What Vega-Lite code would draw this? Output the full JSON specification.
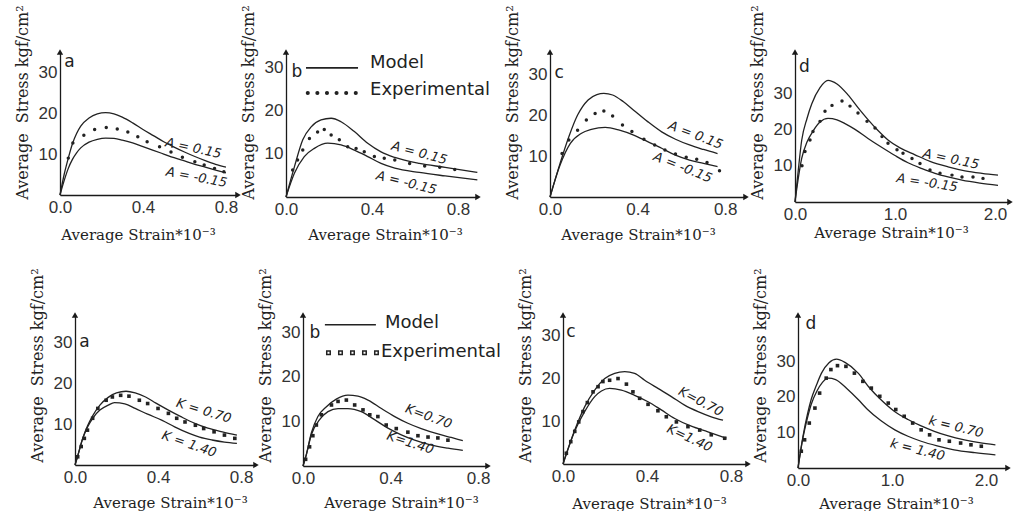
{
  "$schema": "https://vega.github.io/schema/vega-lite/v6.json",
  "background": "white",
  "padding": {"left": 14, "top": 4, "right": 0, "bottom": 0},
  "config": {
    "view": {"stroke": null},
    "axis": {"grid": false, "ticks": false, "domainColor": "#1a1a1a", "domainWidth": 1.3, "labelFont": "Liberation Sans", "labelFontSize": 17, "labelColor": "#333", "labelFlush": false, "labelOverlap": false, "titleFont": "DejaVu Serif", "titleFontSize": 15, "titleFontWeight": "normal", "titleColor": "#222"},
    "axisX": {"labelPadding": 4},
    "axisY": {"labelPadding": 3, "titlePadding": 8, "titleFontSize": 16},
    "line": {"color": "#222", "strokeWidth": 1.3, "interpolate": "monotone"},
    "text": {"color": "#222", "font": "DejaVu Sans", "fontSize": 13, "fontStyle": "italic"}
  },
  "datasets": {
    "ta": [
      {"s":"u","x":0,"y":0},{"s":"u","x":0.02,"y":5},{"s":"u","x":0.04,"y":9},{"s":"u","x":0.06,"y":12.5},{"s":"u","x":0.08,"y":15},{"s":"u","x":0.1,"y":16.8},{"s":"u","x":0.14,"y":18.8},{"s":"u","x":0.18,"y":19.8},{"s":"u","x":0.22,"y":20.1},{"s":"u","x":0.26,"y":19.8},{"s":"u","x":0.3,"y":19},{"s":"u","x":0.35,"y":17.6},{"s":"u","x":0.4,"y":16},{"s":"u","x":0.45,"y":14.5},{"s":"u","x":0.5,"y":13},{"s":"u","x":0.55,"y":11.7},{"s":"u","x":0.6,"y":10.5},{"s":"u","x":0.65,"y":9.4},{"s":"u","x":0.7,"y":8.4},{"s":"u","x":0.75,"y":7.5},{"s":"u","x":0.8,"y":6.8},
      {"s":"l","x":0,"y":0},{"s":"l","x":0.02,"y":3.5},{"s":"l","x":0.04,"y":6.5},{"s":"l","x":0.06,"y":8.7},{"s":"l","x":0.08,"y":10.3},{"s":"l","x":0.1,"y":11.5},{"s":"l","x":0.14,"y":12.9},{"s":"l","x":0.18,"y":13.6},{"s":"l","x":0.22,"y":13.9},{"s":"l","x":0.26,"y":13.8},{"s":"l","x":0.3,"y":13.4},{"s":"l","x":0.35,"y":12.7},{"s":"l","x":0.4,"y":11.8},{"s":"l","x":0.45,"y":10.9},{"s":"l","x":0.5,"y":10},{"s":"l","x":0.55,"y":9.1},{"s":"l","x":0.6,"y":8.3},{"s":"l","x":0.65,"y":7.5},{"s":"l","x":0.7,"y":6.8},{"s":"l","x":0.75,"y":6.1},{"s":"l","x":0.8,"y":5.4},
      {"s":"e","x":0.04,"y":9},{"s":"e","x":0.062,"y":12.7},{"s":"e","x":0.115,"y":14.6},{"s":"e","x":0.167,"y":16},{"s":"e","x":0.223,"y":16.5},{"s":"e","x":0.276,"y":16.1},{"s":"e","x":0.327,"y":15.4},{"s":"e","x":0.375,"y":14.2},{"s":"e","x":0.42,"y":13},{"s":"e","x":0.48,"y":11.8},{"s":"e","x":0.535,"y":10.5},{"s":"e","x":0.59,"y":9.2},{"s":"e","x":0.65,"y":8.1},{"s":"e","x":0.695,"y":7.3},{"s":"e","x":0.745,"y":6.5},{"s":"e","x":0.79,"y":5.7}
    ],
    "tb": [
      {"s":"u","x":0,"y":0},{"s":"u","x":0.039,"y":7},{"s":"u","x":0.078,"y":13.3},{"s":"u","x":0.117,"y":16.3},{"s":"u","x":0.163,"y":17.9},{"s":"u","x":0.21,"y":18.3},{"s":"u","x":0.256,"y":17.5},{"s":"u","x":0.318,"y":15.2},{"s":"u","x":0.38,"y":12.5},{"s":"u","x":0.442,"y":10.5},{"s":"u","x":0.506,"y":9.2},{"s":"u","x":0.62,"y":7.8},{"s":"u","x":0.74,"y":6.9},{"s":"u","x":0.89,"y":5.7},
      {"s":"l","x":0,"y":0},{"s":"l","x":0.039,"y":5.5},{"s":"l","x":0.085,"y":9.4},{"s":"l","x":0.132,"y":11.3},{"s":"l","x":0.194,"y":12.5},{"s":"l","x":0.256,"y":12.1},{"s":"l","x":0.318,"y":10.9},{"s":"l","x":0.38,"y":9.4},{"s":"l","x":0.442,"y":7.8},{"s":"l","x":0.506,"y":6.7},{"s":"l","x":0.62,"y":5.7},{"s":"l","x":0.74,"y":4.9},{"s":"l","x":0.89,"y":4},
      {"s":"e","x":0.031,"y":6.3},{"s":"e","x":0.054,"y":8.6},{"s":"e","x":0.078,"y":10.9},{"s":"e","x":0.109,"y":13.6},{"s":"e","x":0.147,"y":15.1},{"s":"e","x":0.178,"y":15.7},{"s":"e","x":0.21,"y":14.4},{"s":"e","x":0.248,"y":13.3},{"s":"e","x":0.287,"y":11.7},{"s":"e","x":0.326,"y":11.3},{"s":"e","x":0.364,"y":10.5},{"s":"e","x":0.411,"y":9.4},{"s":"e","x":0.457,"y":9},{"s":"e","x":0.506,"y":8.6},{"s":"e","x":0.575,"y":7.8},{"s":"e","x":0.645,"y":7.2},{"s":"e","x":0.715,"y":6.9},{"s":"e","x":0.785,"y":6.4}
    ],
    "tc": [
      {"s":"u","x":0,"y":0},{"s":"u","x":0.046,"y":8.2},{"s":"u","x":0.086,"y":14.7},{"s":"u","x":0.126,"y":20},{"s":"u","x":0.174,"y":23.7},{"s":"u","x":0.214,"y":25},{"s":"u","x":0.246,"y":25.3},{"s":"u","x":0.286,"y":24.9},{"s":"u","x":0.334,"y":23.3},{"s":"u","x":0.382,"y":21.2},{"s":"u","x":0.446,"y":18.4},{"s":"u","x":0.51,"y":15.9},{"s":"u","x":0.573,"y":14.1},{"s":"u","x":0.637,"y":12.7},{"s":"u","x":0.701,"y":11.6},{"s":"u","x":0.765,"y":10.6},
      {"s":"l","x":0,"y":0},{"s":"l","x":0.046,"y":7.8},{"s":"l","x":0.093,"y":13.1},{"s":"l","x":0.142,"y":15.5},{"s":"l","x":0.189,"y":16.5},{"s":"l","x":0.252,"y":17},{"s":"l","x":0.317,"y":16.3},{"s":"l","x":0.382,"y":15.1},{"s":"l","x":0.446,"y":13.5},{"s":"l","x":0.51,"y":11.9},{"s":"l","x":0.573,"y":10.2},{"s":"l","x":0.637,"y":9},{"s":"l","x":0.701,"y":8.2},{"s":"l","x":0.765,"y":7.4},
      {"s":"e","x":0.055,"y":10.6},{"s":"e","x":0.086,"y":13.9},{"s":"e","x":0.126,"y":16.3},{"s":"e","x":0.166,"y":18.8},{"s":"e","x":0.206,"y":20.4},{"s":"e","x":0.246,"y":21},{"s":"e","x":0.286,"y":19.8},{"s":"e","x":0.331,"y":17.6},{"s":"e","x":0.374,"y":16},{"s":"e","x":0.429,"y":14.1},{"s":"e","x":0.478,"y":12.7},{"s":"e","x":0.525,"y":11.5},{"s":"e","x":0.573,"y":10.5},{"s":"e","x":0.622,"y":9.7},{"s":"e","x":0.67,"y":9.2},{"s":"e","x":0.717,"y":8.4},{"s":"e","x":0.774,"y":6.4}
    ],
    "td": [
      {"s":"u","x":0,"y":0},{"s":"u","x":0.03,"y":8},{"s":"u","x":0.067,"y":17},{"s":"u","x":0.12,"y":23},{"s":"u","x":0.167,"y":27},{"s":"u","x":0.25,"y":31.5},{"s":"u","x":0.33,"y":33.5},{"s":"u","x":0.42,"y":32.5},{"s":"u","x":0.53,"y":29.5},{"s":"u","x":0.63,"y":26},{"s":"u","x":0.73,"y":22.7},{"s":"u","x":0.83,"y":19.7},{"s":"u","x":0.93,"y":17.1},{"s":"u","x":1.05,"y":14.9},{"s":"u","x":1.2,"y":13},{"s":"u","x":1.35,"y":11.2},{"s":"u","x":1.53,"y":9.7},{"s":"u","x":1.7,"y":8.6},{"s":"u","x":1.87,"y":7.9},{"s":"u","x":2.03,"y":7.4},
      {"s":"l","x":0,"y":0},{"s":"l","x":0.03,"y":6},{"s":"l","x":0.067,"y":12},{"s":"l","x":0.12,"y":16.5},{"s":"l","x":0.18,"y":19.5},{"s":"l","x":0.25,"y":22},{"s":"l","x":0.33,"y":23},{"s":"l","x":0.42,"y":22.6},{"s":"l","x":0.5,"y":21.6},{"s":"l","x":0.6,"y":20},{"s":"l","x":0.73,"y":17.5},{"s":"l","x":0.87,"y":15},{"s":"l","x":1.0,"y":12.8},{"s":"l","x":1.13,"y":10.8},{"s":"l","x":1.27,"y":9.2},{"s":"l","x":1.4,"y":7.9},{"s":"l","x":1.53,"y":6.9},{"s":"l","x":1.67,"y":6},{"s":"l","x":1.85,"y":5.2},{"s":"l","x":2.03,"y":4.6},
      {"s":"e","x":0.07,"y":10},{"s":"e","x":0.1,"y":13.9},{"s":"e","x":0.15,"y":17.1},{"s":"e","x":0.18,"y":19.4},{"s":"e","x":0.25,"y":22.2},{"s":"e","x":0.3,"y":25},{"s":"e","x":0.37,"y":26.6},{"s":"e","x":0.47,"y":27.8},{"s":"e","x":0.55,"y":26.4},{"s":"e","x":0.63,"y":24.5},{"s":"e","x":0.72,"y":22.2},{"s":"e","x":0.8,"y":20.4},{"s":"e","x":0.87,"y":18},{"s":"e","x":0.93,"y":16.2},{"s":"e","x":1.02,"y":14.4},{"s":"e","x":1.08,"y":13.4},{"s":"e","x":1.17,"y":12},{"s":"e","x":1.25,"y":10.6},{"s":"e","x":1.35,"y":8.8},{"s":"e","x":1.45,"y":7.9},{"s":"e","x":1.57,"y":7.4},{"s":"e","x":1.67,"y":6.9},{"s":"e","x":1.78,"y":6.9},{"s":"e","x":1.88,"y":6.5}
    ],
    "ba": [
      {"s":"u","x":0,"y":0},{"s":"u","x":0.013,"y":2.2},{"s":"u","x":0.037,"y":6.5},{"s":"u","x":0.06,"y":9.5},{"s":"u","x":0.085,"y":12},{"s":"u","x":0.12,"y":14.6},{"s":"u","x":0.16,"y":16.5},{"s":"u","x":0.2,"y":17.6},{"s":"u","x":0.246,"y":18},{"s":"u","x":0.29,"y":17.6},{"s":"u","x":0.34,"y":16.6},{"s":"u","x":0.39,"y":15.1},{"s":"u","x":0.45,"y":13.4},{"s":"u","x":0.51,"y":11.8},{"s":"u","x":0.58,"y":10.1},{"s":"u","x":0.64,"y":9},{"s":"u","x":0.71,"y":8.1},{"s":"u","x":0.78,"y":7.3},
      {"s":"l","x":0,"y":0},{"s":"l","x":0.013,"y":2.2},{"s":"l","x":0.037,"y":6.4},{"s":"l","x":0.06,"y":9.2},{"s":"l","x":0.085,"y":11.4},{"s":"l","x":0.12,"y":13.4},{"s":"l","x":0.16,"y":14.6},{"s":"l","x":0.19,"y":15.2},{"s":"l","x":0.24,"y":14.9},{"s":"l","x":0.29,"y":13.8},{"s":"l","x":0.35,"y":12.4},{"s":"l","x":0.42,"y":10.9},{"s":"l","x":0.48,"y":9.3},{"s":"l","x":0.55,"y":7.7},{"s":"l","x":0.6,"y":6.8},{"s":"l","x":0.66,"y":6.1},{"s":"l","x":0.72,"y":5.6},{"s":"l","x":0.78,"y":5.3},
      {"s":"e","x":0.013,"y":2},{"s":"e","x":0.03,"y":4.5},{"s":"e","x":0.045,"y":6.5},{"s":"e","x":0.06,"y":8.5},{"s":"e","x":0.085,"y":11.4},{"s":"e","x":0.11,"y":13.8},{"s":"e","x":0.15,"y":15.8},{"s":"e","x":0.18,"y":16.6},{"s":"e","x":0.22,"y":17},{"s":"e","x":0.26,"y":16.8},{"s":"e","x":0.31,"y":15.8},{"s":"e","x":0.35,"y":15},{"s":"e","x":0.4,"y":13.8},{"s":"e","x":0.45,"y":12.6},{"s":"e","x":0.49,"y":11.4},{"s":"e","x":0.53,"y":10.5},{"s":"e","x":0.58,"y":9.7},{"s":"e","x":0.62,"y":8.9},{"s":"e","x":0.67,"y":8.1},{"s":"e","x":0.72,"y":7.3},{"s":"e","x":0.77,"y":6.5}
    ],
    "bb": [
      {"s":"u","x":0,"y":0},{"s":"u","x":0.015,"y":2.5},{"s":"u","x":0.038,"y":7.4},{"s":"u","x":0.068,"y":11.1},{"s":"u","x":0.107,"y":13.3},{"s":"u","x":0.152,"y":15},{"s":"u","x":0.205,"y":15.9},{"s":"u","x":0.251,"y":15.7},{"s":"u","x":0.297,"y":14.8},{"s":"u","x":0.358,"y":12.9},{"s":"u","x":0.419,"y":11.1},{"s":"u","x":0.479,"y":9.6},{"s":"u","x":0.54,"y":8.4},{"s":"u","x":0.616,"y":7.2},{"s":"u","x":0.677,"y":6.4},{"s":"u","x":0.73,"y":5.7},
      {"s":"l","x":0,"y":0},{"s":"l","x":0.015,"y":2.5},{"s":"l","x":0.038,"y":7},{"s":"l","x":0.076,"y":10.4},{"s":"l","x":0.114,"y":12.2},{"s":"l","x":0.16,"y":12.9},{"s":"l","x":0.205,"y":12.9},{"s":"l","x":0.266,"y":12.2},{"s":"l","x":0.327,"y":10.4},{"s":"l","x":0.388,"y":8.5},{"s":"l","x":0.449,"y":7},{"s":"l","x":0.51,"y":5.8},{"s":"l","x":0.586,"y":4.7},{"s":"l","x":0.662,"y":4},{"s":"l","x":0.73,"y":3.5},
      {"s":"e","x":0.012,"y":1.5},{"s":"e","x":0.03,"y":4.3},{"s":"e","x":0.045,"y":6.8},{"s":"e","x":0.061,"y":9.2},{"s":"e","x":0.084,"y":11.5},{"s":"e","x":0.13,"y":13.7},{"s":"e","x":0.16,"y":14.5},{"s":"e","x":0.198,"y":14.8},{"s":"e","x":0.236,"y":13.7},{"s":"e","x":0.274,"y":12.6},{"s":"e","x":0.305,"y":11.5},{"s":"e","x":0.342,"y":11.1},{"s":"e","x":0.38,"y":9.2},{"s":"e","x":0.426,"y":8.4},{"s":"e","x":0.479,"y":7.6},{"s":"e","x":0.525,"y":6.8},{"s":"e","x":0.571,"y":6.5},{"s":"e","x":0.616,"y":6.3},{"s":"e","x":0.662,"y":5.8}
    ],
    "bc": [
      {"s":"u","x":0,"y":0},{"s":"u","x":0.056,"y":7.9},{"s":"u","x":0.103,"y":13.3},{"s":"u","x":0.151,"y":17.2},{"s":"u","x":0.199,"y":19.9},{"s":"u","x":0.246,"y":21.1},{"s":"u","x":0.294,"y":21.5},{"s":"u","x":0.341,"y":21.1},{"s":"u","x":0.389,"y":19.5},{"s":"u","x":0.452,"y":17.6},{"s":"u","x":0.516,"y":15.7},{"s":"u","x":0.579,"y":13.7},{"s":"u","x":0.643,"y":12.2},{"s":"u","x":0.706,"y":11},{"s":"u","x":0.762,"y":10.2},
      {"s":"l","x":0,"y":0},{"s":"l","x":0.056,"y":7.7},{"s":"l","x":0.103,"y":12.2},{"s":"l","x":0.151,"y":15.7},{"s":"l","x":0.183,"y":17},{"s":"l","x":0.222,"y":17.6},{"s":"l","x":0.278,"y":17.2},{"s":"l","x":0.341,"y":16},{"s":"l","x":0.405,"y":14.5},{"s":"l","x":0.468,"y":12.6},{"s":"l","x":0.532,"y":10.6},{"s":"l","x":0.611,"y":8.8},{"s":"l","x":0.69,"y":7.5},{"s":"l","x":0.778,"y":6},
      {"s":"e","x":0.016,"y":2.5},{"s":"e","x":0.037,"y":5.2},{"s":"e","x":0.056,"y":7.6},{"s":"e","x":0.075,"y":9.8},{"s":"e","x":0.095,"y":12.2},{"s":"e","x":0.116,"y":14.3},{"s":"e","x":0.143,"y":16.8},{"s":"e","x":0.167,"y":18},{"s":"e","x":0.19,"y":19.2},{"s":"e","x":0.222,"y":19.5},{"s":"e","x":0.262,"y":19.9},{"s":"e","x":0.302,"y":18.6},{"s":"e","x":0.333,"y":16.8},{"s":"e","x":0.365,"y":15.3},{"s":"e","x":0.405,"y":13.9},{"s":"e","x":0.452,"y":12.4},{"s":"e","x":0.492,"y":11},{"s":"e","x":0.54,"y":9.8},{"s":"e","x":0.595,"y":8.7},{"s":"e","x":0.651,"y":7.9},{"s":"e","x":0.706,"y":6.8},{"s":"e","x":0.77,"y":6}
    ],
    "bd": [
      {"s":"u","x":0,"y":0},{"s":"u","x":0.053,"y":8.9},{"s":"u","x":0.1,"y":15},{"s":"u","x":0.14,"y":19.2},{"s":"u","x":0.2,"y":23.5},{"s":"u","x":0.25,"y":26.6},{"s":"u","x":0.33,"y":29.5},{"s":"u","x":0.41,"y":30.5},{"s":"u","x":0.5,"y":29.6},{"s":"u","x":0.64,"y":26.6},{"s":"u","x":0.76,"y":22.5},{"s":"u","x":0.88,"y":19.2},{"s":"u","x":1.02,"y":16},{"s":"u","x":1.17,"y":13.6},{"s":"u","x":1.31,"y":11.8},{"s":"u","x":1.45,"y":10.3},{"s":"u","x":1.6,"y":9},{"s":"u","x":1.77,"y":7.9},{"s":"u","x":1.93,"y":7.1},{"s":"u","x":2.1,"y":6.5},
      {"s":"l","x":0,"y":0},{"s":"l","x":0.053,"y":8.5},{"s":"l","x":0.1,"y":14},{"s":"l","x":0.14,"y":17.8},{"s":"l","x":0.2,"y":21.5},{"s":"l","x":0.26,"y":24},{"s":"l","x":0.32,"y":25.2},{"s":"l","x":0.4,"y":24.8},{"s":"l","x":0.53,"y":22},{"s":"l","x":0.64,"y":19.2},{"s":"l","x":0.74,"y":16.4},{"s":"l","x":0.88,"y":13.3},{"s":"l","x":1.03,"y":10.7},{"s":"l","x":1.17,"y":8.9},{"s":"l","x":1.31,"y":7.5},{"s":"l","x":1.48,"y":6.2},{"s":"l","x":1.66,"y":5.1},{"s":"l","x":1.88,"y":4.3},{"s":"l","x":2.1,"y":3.7},
      {"s":"e","x":0.035,"y":4.7},{"s":"e","x":0.07,"y":7.9},{"s":"e","x":0.12,"y":12.6},{"s":"e","x":0.18,"y":16.8},{"s":"e","x":0.23,"y":21},{"s":"e","x":0.3,"y":25.2},{"s":"e","x":0.35,"y":27.6},{"s":"e","x":0.42,"y":28.7},{"s":"e","x":0.51,"y":28.5},{"s":"e","x":0.6,"y":26.6},{"s":"e","x":0.69,"y":24.3},{"s":"e","x":0.78,"y":22.4},{"s":"e","x":0.87,"y":20.1},{"s":"e","x":0.96,"y":18.2},{"s":"e","x":1.04,"y":16.4},{"s":"e","x":1.13,"y":14.5},{"s":"e","x":1.22,"y":12.6},{"s":"e","x":1.31,"y":10.7},{"s":"e","x":1.4,"y":9.3},{"s":"e","x":1.5,"y":7.9},{"s":"e","x":1.61,"y":7.5},{"s":"e","x":1.73,"y":7},{"s":"e","x":1.84,"y":6.5},{"s":"e","x":1.95,"y":6.1}
    ]
  },
  "bounds": "flush",
  "spacing": 263,
  "vconcat": [
    {
      "bounds": "flush", "spacing": 48,
      "hconcat": [
        {
          "width": 178, "height": 143,
          "layer": [
            {"data": {"name": "ta"}, "transform": [{"filter": "datum.s != 'e'"}], "mark": {"type": "line"},
             "encoding": {
               "x": {"field": "x", "type": "quantitative", "scale": {"domain": [0, 0.858], "nice": false}, "axis": {"values": [0, 0.4, 0.8], "format": ".1f", "title": "Average Strain*10⁻³", "titleX": 78, "titlePadding": 12}},
               "y": {"field": "y", "type": "quantitative", "scale": {"domain": [0, 34.9], "nice": false}, "axis": {"values": [10, 20, 30], "title": "Average\u00a0\u00a0Stress kgf/cm²", "titleY": 50}},
               "detail": {"field": "s"}}},
            {"data": {"name": "ta"}, "transform": [{"filter": "datum.s == 'e'"}], "mark": {"type": "point", "shape": "circle", "filled": true, "size": 12, "color": "#222", "opacity": 1},
             "encoding": {"x": {"field": "x", "type": "quantitative"}, "y": {"field": "y", "type": "quantitative"}}},
            {"data": {"values": [{}]}, "mark": {"type": "point", "shape": "triangle-right", "filled": true, "size": 40, "color": "#1a1a1a", "opacity": 1}, "encoding": {"x": {"datum": 0.858}, "y": {"datum": 0}}},
            {"data": {"values": [{}]}, "mark": {"type": "point", "shape": "triangle-up", "filled": true, "size": 40, "color": "#1a1a1a", "opacity": 1}, "encoding": {"x": {"datum": 0}, "y": {"datum": 34.9}}},
            {"data": {"values": [{}]}, "mark": {"type": "text", "text": "A = 0.15", "angle": 12}, "encoding": {"x": {"datum": 0.643}, "y": {"datum": 11.4}}},
            {"data": {"values": [{}]}, "mark": {"type": "text", "text": "A = -0.15", "angle": 11}, "encoding": {"x": {"datum": 0.658}, "y": {"datum": 4.3}}},
            {"data": {"values": [{}]}, "mark": {"type": "text", "text": "a", "align": "left", "fontSize": 17, "fontStyle": "normal"}, "encoding": {"x": {"datum": 0.02}, "y": {"datum": 32.4}}}
          ]
        },
        {
          "bounds": "flush", "spacing": 72,
          "hconcat": [
            {
              "width": 192, "height": 145,
              "layer": [
                {"data": {"name": "tb"}, "transform": [{"filter": "datum.s != 'e'"}], "mark": {"type": "line"},
                 "encoding": {
                   "x": {"field": "x", "type": "quantitative", "scale": {"domain": [0, 0.893], "nice": false}, "axis": {"values": [0, 0.4, 0.8], "format": ".1f", "title": "Average Strain*10⁻³", "titleX": 99, "titlePadding": 10}},
                   "y": {"field": "y", "type": "quantitative", "scale": {"domain": [0, 33.7], "nice": false}, "axis": {"values": [10, 20, 30], "title": "Average\u00a0\u00a0Stress kgf/cm²", "titleY": 50}},
                   "detail": {"field": "s"}}},
                {"data": {"name": "tb"}, "transform": [{"filter": "datum.s == 'e'"}], "mark": {"type": "point", "shape": "circle", "filled": true, "size": 12, "color": "#222", "opacity": 1},
                 "encoding": {"x": {"field": "x", "type": "quantitative"}, "y": {"field": "y", "type": "quantitative"}}},
                {"data": {"values": [{}]}, "mark": {"type": "point", "shape": "triangle-right", "filled": true, "size": 40, "color": "#1a1a1a", "opacity": 1}, "encoding": {"x": {"datum": 0.893}, "y": {"datum": 0}}},
                {"data": {"values": [{}]}, "mark": {"type": "point", "shape": "triangle-up", "filled": true, "size": 40, "color": "#1a1a1a", "opacity": 1}, "encoding": {"x": {"datum": 0}, "y": {"datum": 33.7}}},
                {"data": {"values": [{}]}, "mark": {"type": "text", "text": "A = 0.15", "angle": 15}, "encoding": {"x": {"datum": 0.62}, "y": {"datum": 10.2}}},
                {"data": {"values": [{}]}, "mark": {"type": "text", "text": "A = -0.15", "angle": 14}, "encoding": {"x": {"datum": 0.56}, "y": {"datum": 3.3}}},
                {"data": {"values": [{}]}, "mark": {"type": "text", "text": "b", "align": "left", "fontSize": 17, "fontStyle": "normal"}, "encoding": {"x": {"datum": 0.025}, "y": {"datum": 29}}},
                {"data": {"values": [{}]}, "mark": {"type": "rule", "color": "#222", "strokeWidth": 1.6}, "encoding": {"x": {"datum": 0.093}, "x2": {"datum": 0.335}, "y": {"datum": 30}}},
                {"data": {"values": [{}]}, "mark": {"type": "rule", "color": "#222", "strokeWidth": 4, "strokeCap": "round", "strokeDash": [0.1, 9.5]}, "encoding": {"x": {"datum": 0.101}, "x2": {"datum": 0.33}, "y": {"datum": 24.2}}},
                {"data": {"values": [{}]}, "mark": {"type": "text", "text": "Model", "align": "left", "fontSize": 18, "fontStyle": "normal"}, "encoding": {"x": {"datum": 0.391}, "y": {"datum": 31.2}}},
                {"data": {"values": [{}]}, "mark": {"type": "text", "text": "Experimental", "align": "left", "fontSize": 18, "fontStyle": "normal"}, "encoding": {"x": {"datum": 0.391}, "y": {"datum": 24.9}}}
              ]
            },
            {
              "bounds": "flush", "spacing": 49,
              "hconcat": [
                {
                  "width": 196, "height": 145,
                  "layer": [
                    {"data": {"name": "tc"}, "transform": [{"filter": "datum.s != 'e'"}], "mark": {"type": "line"},
                     "encoding": {
                       "x": {"field": "x", "type": "quantitative", "scale": {"domain": [0, 0.895], "nice": false}, "axis": {"values": [0, 0.4, 0.8], "format": ".1f", "title": "Average Strain*10⁻³", "titleX": 88, "titlePadding": 10}},
                       "y": {"field": "y", "type": "quantitative", "scale": {"domain": [0, 35.4], "nice": false}, "axis": {"values": [10, 20, 30], "title": "Average\u00a0\u00a0Stress kgf/cm²", "titleY": 50}},
                       "detail": {"field": "s"}}},
                    {"data": {"name": "tc"}, "transform": [{"filter": "datum.s == 'e'"}], "mark": {"type": "point", "shape": "circle", "filled": true, "size": 12, "color": "#222", "opacity": 1},
                     "encoding": {"x": {"field": "x", "type": "quantitative"}, "y": {"field": "y", "type": "quantitative"}}},
                    {"data": {"values": [{}]}, "mark": {"type": "point", "shape": "triangle-right", "filled": true, "size": 40, "color": "#1a1a1a", "opacity": 1}, "encoding": {"x": {"datum": 0.895}, "y": {"datum": 0}}},
                    {"data": {"values": [{}]}, "mark": {"type": "point", "shape": "triangle-up", "filled": true, "size": 40, "color": "#1a1a1a", "opacity": 1}, "encoding": {"x": {"datum": 0}, "y": {"datum": 35.4}}},
                    {"data": {"values": [{}]}, "mark": {"type": "text", "text": "A = 0.15", "angle": 21}, "encoding": {"x": {"datum": 0.665}, "y": {"datum": 15.1}}},
                    {"data": {"values": [{}]}, "mark": {"type": "text", "text": "A = -0.15", "angle": 22}, "encoding": {"x": {"datum": 0.606}, "y": {"datum": 7.2}}},
                    {"data": {"values": [{}]}, "mark": {"type": "text", "text": "c", "align": "left", "fontSize": 17, "fontStyle": "normal"}, "encoding": {"x": {"datum": 0.02}, "y": {"datum": 30.2}}}
                  ]
                },
                {
                  "width": 215, "height": 150,
                  "layer": [
                    {"data": {"name": "td"}, "transform": [{"filter": "datum.s != 'e'"}], "mark": {"type": "line"},
                     "encoding": {
                       "x": {"field": "x", "type": "quantitative", "scale": {"domain": [0, 2.15], "nice": false}, "axis": {"values": [0, 1, 2], "format": ".1f", "title": "Average Strain*10⁻³", "titleX": 96, "titlePadding": 3}},
                       "y": {"field": "y", "type": "quantitative", "scale": {"domain": [0, 41.3], "nice": false}, "axis": {"values": [10, 20, 30], "title": "Average\u00a0\u00a0Stress kgf/cm²", "titleY": 50}},
                       "detail": {"field": "s"}}},
                    {"data": {"name": "td"}, "transform": [{"filter": "datum.s == 'e'"}], "mark": {"type": "point", "shape": "circle", "filled": true, "size": 12, "color": "#222", "opacity": 1},
                     "encoding": {"x": {"field": "x", "type": "quantitative"}, "y": {"field": "y", "type": "quantitative"}}},
                    {"data": {"values": [{}]}, "mark": {"type": "point", "shape": "triangle-right", "filled": true, "size": 40, "color": "#1a1a1a", "opacity": 1}, "encoding": {"x": {"datum": 2.15}, "y": {"datum": 0}}},
                    {"data": {"values": [{}]}, "mark": {"type": "point", "shape": "triangle-up", "filled": true, "size": 40, "color": "#1a1a1a", "opacity": 1}, "encoding": {"x": {"datum": 0}, "y": {"datum": 41.3}}},
                    {"data": {"values": [{}]}, "mark": {"type": "text", "text": "A = 0.15", "angle": 12}, "encoding": {"x": {"datum": 1.56}, "y": {"datum": 11.8}}},
                    {"data": {"values": [{}]}, "mark": {"type": "text", "text": "A = -0.15", "angle": 9}, "encoding": {"x": {"datum": 1.32}, "y": {"datum": 5.3}}},
                    {"data": {"values": [{}]}, "mark": {"type": "text", "text": "d", "align": "left", "fontSize": 17, "fontStyle": "normal"}, "encoding": {"x": {"datum": 0.04}, "y": {"datum": 37.3}}}
                  ]
                }
              ]
            }
          ]
        }
      ]
    },
    {
      "bounds": "flush", "spacing": 14,
      "hconcat": [
        {"width": 1, "height": 1, "data": {"values": [{}]}, "mark": {"type": "point", "opacity": 0}},
        {
          "bounds": "flush", "spacing": 47,
          "hconcat": [
            {
              "width": 181, "height": 150,
              "layer": [
                {"data": {"name": "ba"}, "transform": [{"filter": "datum.s != 'e'"}], "mark": {"type": "line"},
                 "encoding": {
                   "x": {"field": "x", "type": "quantitative", "scale": {"domain": [0, 0.872], "nice": false}, "axis": {"values": [0, 0.4, 0.8], "format": ".1f", "title": "Average Strain*10⁻³", "titleX": 95, "titlePadding": 10}},
                   "y": {"field": "y", "type": "quantitative", "scale": {"domain": [0, 36.6], "nice": false}, "axis": {"values": [10, 20, 30], "title": "Average\u00a0\u00a0Stress kgf/cm²", "titleY": 50}},
                   "detail": {"field": "s"}}},
                {"data": {"name": "ba"}, "transform": [{"filter": "datum.s == 'e'"}], "mark": {"type": "point", "shape": "square", "filled": true, "size": 13, "color": "#222", "opacity": 1},
                 "encoding": {"x": {"field": "x", "type": "quantitative"}, "y": {"field": "y", "type": "quantitative"}}},
                {"data": {"values": [{}]}, "mark": {"type": "point", "shape": "triangle-right", "filled": true, "size": 40, "color": "#1a1a1a", "opacity": 1}, "encoding": {"x": {"datum": 0.872}, "y": {"datum": 0}}},
                {"data": {"values": [{}]}, "mark": {"type": "point", "shape": "triangle-up", "filled": true, "size": 40, "color": "#1a1a1a", "opacity": 1}, "encoding": {"x": {"datum": 0}, "y": {"datum": 36.6}}},
                {"data": {"values": [{}]}, "mark": {"type": "text", "text": "K = 0.70", "angle": 17}, "encoding": {"x": {"datum": 0.62}, "y": {"datum": 13.2}}},
                {"data": {"values": [{}]}, "mark": {"type": "text", "text": "K = 1.40", "angle": 19}, "encoding": {"x": {"datum": 0.55}, "y": {"datum": 5.1}}},
                {"data": {"values": [{}]}, "mark": {"type": "text", "text": "a", "align": "left", "fontSize": 17, "fontStyle": "normal"}, "encoding": {"x": {"datum": 0.02}, "y": {"datum": 30}}}
              ]
            },
            {
              "bounds": "flush", "spacing": 75,
              "hconcat": [
                {
                  "width": 185, "height": 151,
                  "layer": [
                    {"data": {"name": "bb"}, "transform": [{"filter": "datum.s != 'e'"}], "mark": {"type": "line"},
                     "encoding": {
                       "x": {"field": "x", "type": "quantitative", "scale": {"domain": [0, 0.845], "nice": false}, "axis": {"values": [0, 0.4, 0.8], "format": ".1f", "title": "Average Strain*10⁻³", "titleX": 98, "titlePadding": 9}},
                       "y": {"field": "y", "type": "quantitative", "scale": {"domain": [0, 33.9], "nice": false}, "axis": {"values": [10, 20, 30], "title": "Average\u00a0\u00a0Stress kgf/cm²", "titleY": 50}},
                       "detail": {"field": "s"}}},
                    {"data": {"name": "bb"}, "transform": [{"filter": "datum.s == 'e'"}], "mark": {"type": "point", "shape": "square", "filled": true, "size": 13, "color": "#222", "opacity": 1},
                     "encoding": {"x": {"field": "x", "type": "quantitative"}, "y": {"field": "y", "type": "quantitative"}}},
                    {"data": {"values": [{}]}, "mark": {"type": "point", "shape": "triangle-right", "filled": true, "size": 40, "color": "#1a1a1a", "opacity": 1}, "encoding": {"x": {"datum": 0.845}, "y": {"datum": 0}}},
                    {"data": {"values": [{}]}, "mark": {"type": "point", "shape": "triangle-up", "filled": true, "size": 40, "color": "#1a1a1a", "opacity": 1}, "encoding": {"x": {"datum": 0}, "y": {"datum": 33.9}}},
                    {"data": {"values": [{}]}, "mark": {"type": "text", "text": "K=0.70", "angle": 20}, "encoding": {"x": {"datum": 0.574}, "y": {"datum": 11.1}}},
                    {"data": {"values": [{}]}, "mark": {"type": "text", "text": "K=1.40", "angle": 18}, "encoding": {"x": {"datum": 0.49}, "y": {"datum": 5.2}}},
                    {"data": {"values": [{}]}, "mark": {"type": "text", "text": "b", "align": "left", "fontSize": 17, "fontStyle": "normal"}, "encoding": {"x": {"datum": 0.03}, "y": {"datum": 29.9}}},
                    {"data": {"values": [{}]}, "mark": {"type": "rule", "color": "#222", "strokeWidth": 1.6}, "encoding": {"x": {"datum": 0.1}, "x2": {"datum": 0.333}, "y": {"datum": 31.7}}},
                    {"data": {"values": [{}]}, "mark": {"type": "rule", "color": "#222", "strokeWidth": 5, "strokeDash": [5, 7]}, "encoding": {"x": {"datum": 0.105}, "x2": {"datum": 0.347}, "y": {"datum": 25.4}}},
                    {"data": {"values": [{}]}, "mark": {"type": "rule", "color": "white", "strokeWidth": 2, "strokeDash": [2, 10], "strokeDashOffset": -1.5}, "encoding": {"x": {"datum": 0.105}, "x2": {"datum": 0.347}, "y": {"datum": 25.4}}},
                    {"data": {"values": [{}]}, "mark": {"type": "text", "text": "Model", "align": "left", "fontSize": 18, "fontStyle": "normal"}, "encoding": {"x": {"datum": 0.374}, "y": {"datum": 32.1}}},
                    {"data": {"values": [{}]}, "mark": {"type": "text", "text": "Experimental", "align": "left", "fontSize": 18, "fontStyle": "normal"}, "encoding": {"x": {"datum": 0.356}, "y": {"datum": 25.6}}}
                  ]
                },
                {
                  "bounds": "flush", "spacing": 50,
                  "hconcat": [
                    {
                      "width": 185, "height": 149,
                      "layer": [
                        {"data": {"name": "bc"}, "transform": [{"filter": "datum.s != 'e'"}], "mark": {"type": "line"},
                         "encoding": {
                           "x": {"field": "x", "type": "quantitative", "scale": {"domain": [0, 0.881], "nice": false}, "axis": {"values": [0, 0.4, 0.8], "format": ".1f", "title": "Average Strain*10⁻³", "titleX": 86, "titlePadding": 12}},
                           "y": {"field": "y", "type": "quantitative", "scale": {"domain": [0, 34.7], "nice": false}, "axis": {"values": [10, 20, 30], "title": "Average\u00a0\u00a0Stress kgf/cm²", "titleY": 50}},
                           "detail": {"field": "s"}}},
                        {"data": {"name": "bc"}, "transform": [{"filter": "datum.s == 'e'"}], "mark": {"type": "point", "shape": "square", "filled": true, "size": 13, "color": "#222", "opacity": 1},
                         "encoding": {"x": {"field": "x", "type": "quantitative"}, "y": {"field": "y", "type": "quantitative"}}},
                        {"data": {"values": [{}]}, "mark": {"type": "point", "shape": "triangle-right", "filled": true, "size": 40, "color": "#1a1a1a", "opacity": 1}, "encoding": {"x": {"datum": 0.881}, "y": {"datum": 0}}},
                        {"data": {"values": [{}]}, "mark": {"type": "point", "shape": "triangle-up", "filled": true, "size": 40, "color": "#1a1a1a", "opacity": 1}, "encoding": {"x": {"datum": 0}, "y": {"datum": 34.7}}},
                        {"data": {"values": [{}]}, "mark": {"type": "text", "text": "K=0.70", "angle": 28}, "encoding": {"x": {"datum": 0.656}, "y": {"datum": 14.5}}},
                        {"data": {"values": [{}]}, "mark": {"type": "text", "text": "K=1.40", "angle": 25}, "encoding": {"x": {"datum": 0.603}, "y": {"datum": 6}}},
                        {"data": {"values": [{}]}, "mark": {"type": "text", "text": "c", "align": "left", "fontSize": 17, "fontStyle": "normal"}, "encoding": {"x": {"datum": 0.015}, "y": {"datum": 30.8}}}
                      ]
                    },
                    {
                      "width": 210, "height": 153,
                      "layer": [
                        {"data": {"name": "bd"}, "transform": [{"filter": "datum.s != 'e'"}], "mark": {"type": "line"},
                         "encoding": {
                           "x": {"field": "x", "type": "quantitative", "scale": {"domain": [0, 2.234], "nice": false}, "axis": {"values": [0, 1, 2], "format": ".1f", "title": "Average Strain*10⁻³", "titleX": 98, "titlePadding": 8}},
                           "y": {"field": "y", "type": "quantitative", "scale": {"domain": [0, 42.9], "nice": false}, "axis": {"values": [10, 20, 30], "title": "Average\u00a0\u00a0Stress kgf/cm²", "titleY": 50}},
                           "detail": {"field": "s"}}},
                        {"data": {"name": "bd"}, "transform": [{"filter": "datum.s == 'e'"}], "mark": {"type": "point", "shape": "square", "filled": true, "size": 13, "color": "#222", "opacity": 1},
                         "encoding": {"x": {"field": "x", "type": "quantitative"}, "y": {"field": "y", "type": "quantitative"}}},
                        {"data": {"values": [{}]}, "mark": {"type": "point", "shape": "triangle-right", "filled": true, "size": 40, "color": "#1a1a1a", "opacity": 1}, "encoding": {"x": {"datum": 2.234}, "y": {"datum": 0}}},
                        {"data": {"values": [{}]}, "mark": {"type": "point", "shape": "triangle-up", "filled": true, "size": 40, "color": "#1a1a1a", "opacity": 1}, "encoding": {"x": {"datum": 0}, "y": {"datum": 42.9}}},
                        {"data": {"values": [{}]}, "mark": {"type": "text", "text": "k = 0.70", "angle": 14}, "encoding": {"x": {"datum": 1.68}, "y": {"datum": 11.5}}},
                        {"data": {"values": [{}]}, "mark": {"type": "text", "text": "k = 1.40", "angle": 14}, "encoding": {"x": {"datum": 1.27}, "y": {"datum": 5.1}}},
                        {"data": {"values": [{}]}, "mark": {"type": "text", "text": "d", "align": "left", "fontSize": 17, "fontStyle": "normal"}, "encoding": {"x": {"datum": 0.08}, "y": {"datum": 40.3}}}
                      ]
                    }
                  ]
                }
              ]
            }
          ]
        }
      ]
    }
  ]
}
